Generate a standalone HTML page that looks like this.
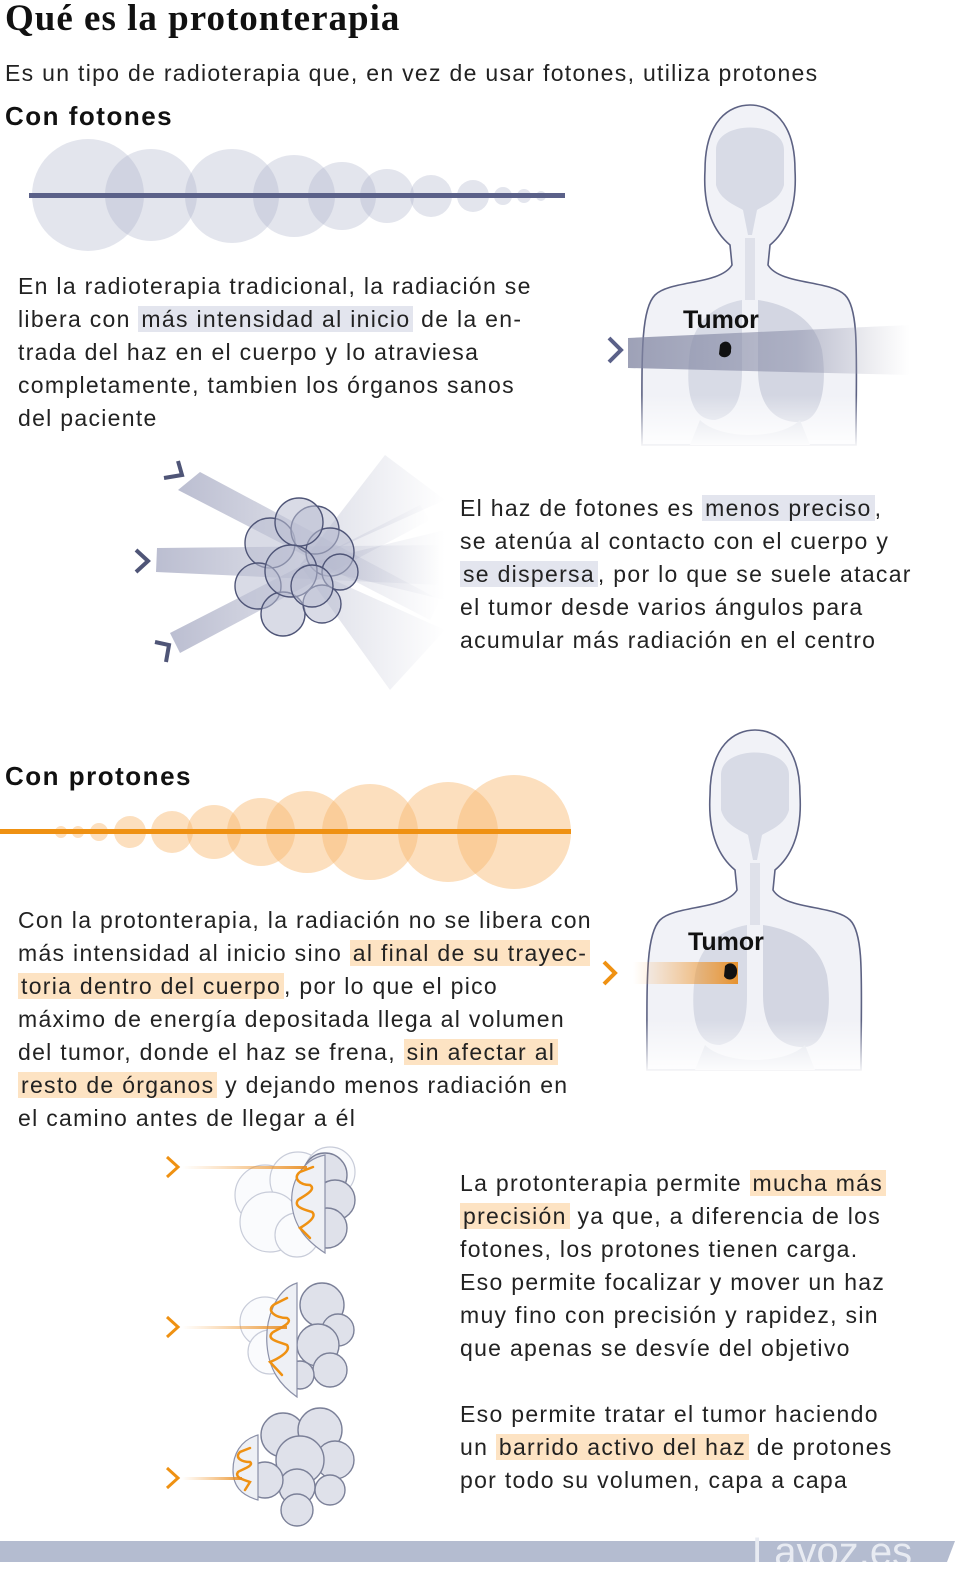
<!DOCTYPE html>
<html><head><meta charset="utf-8"><style>
html,body{margin:0;padding:0;background:#fff;}
body{width:960px;height:1572px;position:relative;overflow:hidden;font-family:"Liberation Sans",sans-serif;color:#222;}
.t{position:absolute;white-space:nowrap;font-size:23px;line-height:33px;letter-spacing:1.3px;}
.g{background:#e3e5ee;padding:0 3px;}
.o{background:#fde3c3;padding:0 3px;}
svg{position:absolute;left:0;top:0;}
</style></head><body>
<svg width="960" height="1572" viewBox="0 0 960 1572">
<defs>
<linearGradient id="pb" x1="0" x2="1"><stop offset="0" stop-color="#7d829f" stop-opacity=".75"/><stop offset=".6" stop-color="#8d91ab" stop-opacity=".55"/><stop offset="1" stop-color="#aab" stop-opacity="0"/></linearGradient>
<linearGradient id="ob" x1="0" x2="1"><stop offset="0" stop-color="#f7a64a" stop-opacity="0"/><stop offset="1" stop-color="#e88a1a" stop-opacity=".9"/></linearGradient>
<linearGradient id="fb" x1="0" x2="1"><stop offset="0" stop-color="#9ea2bd" stop-opacity=".7"/><stop offset="1" stop-color="#9ea2bd" stop-opacity="0"/></linearGradient>
<linearGradient id="fan" gradientUnits="userSpaceOnUse" x1="300" y1="0" x2="445" y2="0"><stop offset="0" stop-color="#aeb2c8" stop-opacity=".45"/><stop offset="1" stop-color="#aeb2c8" stop-opacity="0"/></linearGradient>
<linearGradient id="fade" x1="0" y1="0" x2="0" y2="1"><stop offset=".0" stop-color="#fff" stop-opacity="0"/><stop offset="1" stop-color="#fff" stop-opacity="1"/></linearGradient>
<g id="body">
<path d="M705 170 C705 120 730 105 750 105 C770 105 795 120 795 170 C797 205 788 230 770 245 L768 265 C780 285 830 280 845 295 C860 310 856 360 856 445 L642 445 C642 360 640 310 655 295 C670 280 720 285 732 265 L730 245 C712 230 703 205 705 170Z" fill="#f1f2f7" stroke="#5d6283" stroke-width="1.6"/>
<path d="M716 150 C716 120 784 120 784 150 L784 185 C780 200 765 205 757 210 L752 235 L748 235 L743 210 C735 205 720 200 716 185Z" fill="#d8dbe6"/>
<path d="M745 238 L745 300 L755 300 L755 238Z" fill="#dfe1ea"/>
<path d="M742 300 C715 305 695 320 690 350 C685 390 690 420 715 420 C735 415 742 400 742 370Z" fill="#d8dbe6"/>
<path d="M758 300 C790 305 815 320 822 350 C828 390 820 425 795 422 C770 420 758 400 758 370Z" fill="#d3d6e2"/>
<path d="M700 420 C720 440 780 440 800 420 L810 445 L690 445Z" fill="#dde0e9"/>
<rect x="636" y="395" width="226" height="55" fill="url(#fade)"/>
</g>
</defs>

<!-- photon beam circles -->
<g fill="#a9afc8" fill-opacity=".33">
<circle cx="88" cy="195" r="56"/><circle cx="151" cy="195" r="46"/><circle cx="232" cy="196" r="47"/>
<circle cx="294" cy="196" r="41"/><circle cx="342" cy="196" r="34"/><circle cx="387" cy="196" r="27"/>
<circle cx="431" cy="196" r="21"/><circle cx="473" cy="196" r="16"/><circle cx="503" cy="196" r="9"/>
<circle cx="524" cy="196" r="7"/><circle cx="541" cy="196" r="5"/>
</g>
<rect x="29" y="193" width="536" height="5" fill="#5b6189"/>

<!-- photon body -->
<use href="#body"/>
<polygon points="628,338 910,325 910,375 628,368" fill="url(#pb)"/>
<path d="M609 338 L621 350 L609 362" fill="none" stroke="#5b6189" stroke-width="4"/>
<path d="M720 345 C725 338 733 343 731 350 C732 357 722 360 719 354Z" fill="#111"/>
<text x="683" y="328" font-family="Liberation Sans" font-weight="bold" font-size="25" fill="#111">Tumor</text>

<!-- photon multi-beam -->
<polygon points="300,565 385,455 445,500" fill="url(#fan)"/>
<polygon points="300,565 445,530 445,600" fill="url(#fan)"/>
<polygon points="300,565 445,630 390,690" fill="url(#fan)"/>
<polygon points="178,490 200,472 440,600 430,620" fill="url(#fb)"/>
<polygon points="157,548 156,572 440,585 440,545" fill="url(#fb)"/>
<polygon points="170,633 180,653 430,520 420,505" fill="url(#fb)"/>
<g fill="#b9bdd2" fill-opacity=".55" stroke="#4f5577" stroke-width="1.4">
<circle cx="270" cy="543" r="25"/><circle cx="315" cy="530" r="24"/><circle cx="330" cy="552" r="24"/>
<circle cx="258" cy="586" r="23"/><circle cx="340" cy="572" r="18"/><circle cx="283" cy="614" r="22"/>
<circle cx="322" cy="604" r="19"/><circle cx="299" cy="522" r="24"/><circle cx="291" cy="571" r="26"/><circle cx="312" cy="586" r="21"/>
</g>
<path d="M178 461 L182 475 L164 478" fill="none" stroke="#4f5577" stroke-width="4"/>
<path d="M136 550 L148 561 L136 572" fill="none" stroke="#4f5577" stroke-width="4"/>
<path d="M155 642 L169 645 L166 662" fill="none" stroke="#4f5577" stroke-width="4"/>

<!-- proton beam circles -->
<g fill="#f9b96f" fill-opacity=".45">
<circle cx="61" cy="832" r="6"/><circle cx="78" cy="832" r="6"/><circle cx="99" cy="832" r="9"/>
<circle cx="130" cy="832" r="16"/><circle cx="172" cy="832" r="21"/><circle cx="214" cy="832" r="27"/>
<circle cx="261" cy="832" r="34"/><circle cx="307" cy="832" r="41"/><circle cx="370" cy="832" r="48"/>
<circle cx="448" cy="832" r="50"/><circle cx="514" cy="832" r="57"/>
</g>
<rect x="0" y="829" width="571" height="5" fill="#ef9112"/>

<!-- proton body -->
<use href="#body" transform="translate(5,625)"/>
<polygon points="633,962 738,962 738,984 633,984" fill="url(#ob)"/>
<path d="M604 962 L615 973 L604 984" fill="none" stroke="#ef9112" stroke-width="4"/>
<path d="M725 966 C730 960 738 965 737 972 C737 980 727 982 724 976Z" fill="#111"/>
<text x="688" y="950" font-family="Liberation Sans" font-weight="bold" font-size="25" fill="#111">Tumor</text>

<!-- proton scanning tumours -->
<g stroke="#c8ccd9" stroke-width="1.2" fill="#fafbfd">
<circle cx="265" cy="1195" r="30"/><circle cx="298" cy="1180" r="28"/><circle cx="270" cy="1222" r="30"/><circle cx="297" cy="1235" r="22"/><circle cx="330" cy="1172" r="25"/>
<circle cx="265" cy="1322" r="25"/><circle cx="270" cy="1352" r="22"/>
</g>
<g stroke="#7b8098" stroke-width="1.4" fill="#dfe1ea">
<circle cx="325" cy="1175" r="22"/><circle cx="335" cy="1200" r="20"/><circle cx="327" cy="1228" r="20"/>
<circle cx="322" cy="1305" r="22"/><circle cx="338" cy="1330" r="16"/><circle cx="318" cy="1345" r="21"/><circle cx="330" cy="1370" r="17"/><circle cx="300" cy="1375" r="14"/>
<circle cx="283" cy="1435" r="22"/><circle cx="320" cy="1430" r="22"/><circle cx="335" cy="1460" r="19"/><circle cx="300" cy="1460" r="24"/><circle cx="330" cy="1490" r="15"/><circle cx="297" cy="1487" r="18"/><circle cx="297" cy="1510" r="16"/><circle cx="265" cy="1480" r="18"/>
</g>
<g fill="#eef0f5" stroke="#8b90a8" stroke-width="1.2">
<path d="M325 1155 C300 1160 290 1185 292 1205 C294 1225 305 1240 325 1253Z"/>
<path d="M297 1283 C275 1290 265 1320 267 1345 C269 1370 280 1385 297 1397Z"/>
<path d="M258 1435 C240 1440 233 1455 233 1470 C233 1485 240 1495 258 1500Z"/>
</g>
<g fill="none" stroke="#ef9112" stroke-width="2.5" stroke-linecap="round">
<path d="M313 1167 L300 1172 C292 1178 300 1185 310 1185 C318 1190 300 1198 298 1200 C293 1207 305 1210 312 1212 C318 1217 305 1225 300 1228 L310 1238"/>
<path d="M287 1298 L275 1304 C265 1310 275 1318 287 1318 C295 1323 275 1330 272 1333 C266 1340 280 1342 287 1345 C292 1352 275 1360 270 1362 L282 1375"/>
<path d="M250 1448 L240 1452 C234 1458 242 1462 250 1462 C255 1466 240 1470 238 1472 C234 1478 245 1480 250 1482 L245 1490"/>
</g>
<rect x="182" y="1166" width="125" height="3" fill="url(#ob)"/>
<rect x="182" y="1326" width="105" height="3" fill="url(#ob)"/>
<rect x="182" y="1477" width="60" height="3" fill="url(#ob)"/>
<g fill="none" stroke="#ef9112" stroke-width="3">
<path d="M167 1157 L178 1167 L167 1177"/><path d="M167 1317 L178 1327 L167 1337"/><path d="M167 1468 L178 1478 L167 1488"/>
</g>

<!-- bottom bar -->
<polygon points="0,1541 955,1541 947,1562 0,1562" fill="#b4bcd0"/>
<text x="752" y="1565" font-family="Liberation Sans" font-size="40" fill="#e8ebf2">Lavoz.es</text>
<rect x="740" y="1562" width="220" height="10" fill="#fff"/>
</svg>

<div class="t" style="left:5px;top:-3px;font-family:'Liberation Serif',serif;font-weight:bold;font-size:37px;line-height:44px;color:#111;letter-spacing:1px;">Qué es la protonterapia</div>
<div class="t" style="left:5px;top:57px;font-size:23px;">Es un tipo de radioterapia que, en vez de usar fotones, utiliza protones</div>
<div class="t" style="left:5px;top:100px;font-weight:bold;font-size:26px;color:#111;letter-spacing:1.5px;">Con fotones</div>

<div class="t" style="left:18px;top:270px;">En la radioterapia tradicional, la radiación se</div>
<div class="t" style="left:18px;top:303px;">libera con <span class="g">más intensidad al inicio</span> de la en-</div>
<div class="t" style="left:18px;top:336px;">trada del haz en el cuerpo y lo atraviesa</div>
<div class="t" style="left:18px;top:369px;">completamente, tambien los órganos sanos</div>
<div class="t" style="left:18px;top:402px;">del paciente</div>

<div class="t" style="left:460px;top:492px;">El haz de fotones es <span class="g">menos preciso</span>,</div>
<div class="t" style="left:460px;top:525px;">se atenúa al contacto con el cuerpo y</div>
<div class="t" style="left:460px;top:558px;"><span class="g">se dispersa</span>, por lo que se suele atacar</div>
<div class="t" style="left:460px;top:591px;">el tumor desde varios ángulos para</div>
<div class="t" style="left:460px;top:624px;">acumular más radiación en el centro</div>

<div class="t" style="left:5px;top:760px;font-weight:bold;font-size:26px;color:#111;letter-spacing:1.5px;">Con protones</div>

<div class="t" style="left:18px;top:904px;">Con la protonterapia, la radiación no se libera con</div>
<div class="t" style="left:18px;top:937px;">más intensidad al inicio sino <span class="o">al final de su trayec-</span></div>
<div class="t" style="left:18px;top:970px;"><span class="o">toria dentro del cuerpo</span>, por lo que el pico</div>
<div class="t" style="left:18px;top:1003px;">máximo de energía depositada llega al volumen</div>
<div class="t" style="left:18px;top:1036px;">del tumor, donde el haz se frena, <span class="o">sin afectar al </span></div>
<div class="t" style="left:18px;top:1069px;"><span class="o">resto de órganos</span> y dejando menos radiación en</div>
<div class="t" style="left:18px;top:1102px;">el camino antes de llegar a él</div>

<div class="t" style="left:460px;top:1167px;">La protonterapia permite <span class="o">mucha más</span></div>
<div class="t" style="left:460px;top:1200px;"><span class="o">precisión</span> ya que, a diferencia de los</div>
<div class="t" style="left:460px;top:1233px;">fotones, los protones tienen carga.</div>
<div class="t" style="left:460px;top:1266px;">Eso permite focalizar y mover un haz</div>
<div class="t" style="left:460px;top:1299px;">muy fino con precisión y rapidez, sin</div>
<div class="t" style="left:460px;top:1332px;">que apenas se desvíe del objetivo</div>

<div class="t" style="left:460px;top:1398px;">Eso permite tratar el tumor haciendo</div>
<div class="t" style="left:460px;top:1431px;">un <span class="o">barrido activo del haz</span> de protones</div>
<div class="t" style="left:460px;top:1464px;">por todo su volumen, capa a capa</div>
</body></html>
